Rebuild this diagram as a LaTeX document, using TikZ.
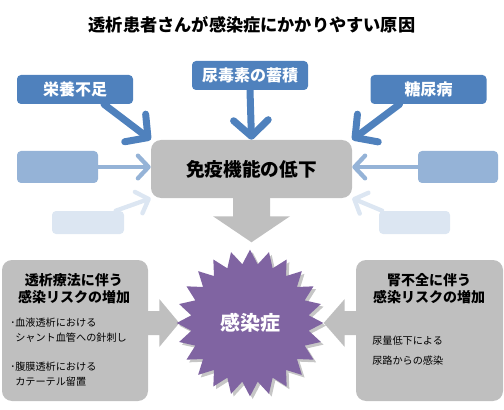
\documentclass[tikz,border=0pt]{standalone}
\usepackage{fontspec}
\setmainfont{Noto Sans CJK JP}
\usetikzlibrary{arrows.meta,shapes.geometric,positioning,shadows,calc}

\definecolor{darkblue}{HTML}{4F81BD}
\definecolor{midblue}{HTML}{95B3D7}
\definecolor{paleblue}{HTML}{DCE6F2}
\definecolor{boxgray}{HTML}{BFBFBF}
\definecolor{starpurple}{HTML}{8064A2}

\tikzset{
  cause/.style   = {rectangle, rounded corners=3pt, fill=darkblue, text=white,
                    font=\fontsize{12}{14}\selectfont\bfseries,
                    minimum width=87pt, minimum height=21.75pt, inner sep=0pt},
  faint/.style   = {rectangle, rounded corners=3pt, inner sep=0pt},
  immune/.style  = {rectangle, rounded corners=7.5pt, fill=boxgray,
                    font=\fontsize{14}{16}\selectfont\bfseries,
                    minimum width=150.75pt, minimum height=43.5pt},
  panel/.style   = {rectangle, rounded corners=7.5pt, fill=boxgray,
                    minimum width=109.5pt, minimum height=105.75pt},
  panelhead/.style = {align=center, inner sep=0pt,
                    font=\fontsize{10.5}{12.75}\selectfont\bfseries},
  panelbody/.style = {align=left, inner sep=0pt, anchor=west,
                    font=\fontsize{7.6}{11.25}\selectfont},
  burst/.style   = {star, star points=24, star point ratio=1.24,
                    minimum size=110pt, inner sep=0pt, fill=starpurple,
                    text=white, font=\fontsize{15}{17}\selectfont\bfseries,
                    drop shadow={shadow xshift=2pt, shadow yshift=-2pt,
                                 opacity=0.45}},
  push/.style    = {line width=5.25pt, line cap=round, draw=darkblue,
                    -{Straight Barb[round, length=12pt, width=26pt]}},
  soft push/.style = {line width=3.25pt, line cap=round,
                    -{Straight Barb[round, length=8pt, width=17pt]}}
}

\begin{document}
\begin{tikzpicture}[x=0.75pt, y=-0.75pt]
  \useasboundingbox (0,0) rectangle (504,410);

  % title
  \node[font=\fontsize{12.9}{15}\selectfont\bfseries] (title) at (252,25)
    {透析患者さんが感染症にかかりやすい原因};

  % causes, top row
  \node[cause] (eiyou) at (75,89.5) {栄養不足};
  \node[cause] (nyoudoku) at (250,75.5) {尿毒素の蓄積};
  \node[cause] (tounyou) at (428.5,89.5) {糖尿病};

  % the blank boxes at the sides
  \node[faint, fill=midblue, minimum width=60.75pt, minimum height=24pt]
    (leftmid) at (57.5,167) {};
  \node[faint, fill=midblue, minimum width=60pt, minimum height=24pt]
    (rightmid) at (458,167) {};
  \node[faint, fill=paleblue, minimum width=54pt, minimum height=17.25pt]
    (leftlow) at (88,222.5) {};
  \node[faint, fill=paleblue, minimum width=53.25pt, minimum height=17.25pt]
    (rightlow) at (414.5,222.5) {};

  % centre box
  \node[immune] (menneki) at (251.5,169) {免疫機能の低下};

  % arrows into the centre box
  \draw[push] (eiyou.-27) -- (menneki.north west);
  \draw[push] (nyoudoku.south) -- (menneki.north);
  \draw[push] (tounyou.207) -- (menneki.north east);
  \draw[soft push, draw=midblue] (leftmid.east) -- (leftmid.east -| menneki.west);
  \draw[soft push, draw=midblue] (rightmid.west) -- (rightmid.west -| menneki.east);
  \draw[soft push, draw=paleblue] (leftlow.23) -- (menneki.south west);
  \draw[soft push, draw=paleblue] (rightlow.160) -- (menneki.south east);

  % big arrow down
  \fill[boxgray] (menneki.south) ++(-18.5,-1) -- ++(0,19) -- ++(-20,0)
    -- ++(38.5,26) -- ++(38.5,-26) -- ++(-20,0) -- ++(0,-19) -- cycle;

  % side panels
  \node[panel] (leftpanel) at (75,330.5) {};
  \node[panel, minimum width=110.25pt] (rightpanel) at (429.5,330.5) {};

  \node[panelhead] (lefthead) at (74,288.5) {透析療法に伴う\\感染リスクの増加};
  \node[panelbody] (leftbody1) at (10,330.5)
    {･血液透析における\\\phantom{･}シャント血管への針刺し};
  \node[panelbody] (leftbody2) at (10,374.5)
    {･腹膜透析における\\\phantom{･}カテーテル留置};

  \node[panelhead] (righthead) at (429,288.5) {腎不全に伴う\\感染リスクの増加};
  \node[panelbody, font=\fontsize{7.6}{15}\selectfont] (rightbody) at (372,351)
    {尿量低下による\\尿路からの感染};

  % arrows from the panels towards the star
  \coordinate (core) at (250,323);
  \fill[boxgray] (leftpanel.east |- core) ++(-2,-12) -- ++(13,0) -- ++(0,-12)
    -- ++(20,24) -- ++(-20,24) -- ++(0,-12) -- ++(-13,0) -- cycle;
  \fill[boxgray] (rightpanel.west |- core) ++(2,-12) -- ++(-13,0) -- ++(0,-12)
    -- ++(-21,24) -- ++(21,24) -- ++(0,-12) -- ++(13,0) -- cycle;

  % infection star in the middle
  \node[burst] (infection) at (core) {感染症};
\end{tikzpicture}
\end{document}
